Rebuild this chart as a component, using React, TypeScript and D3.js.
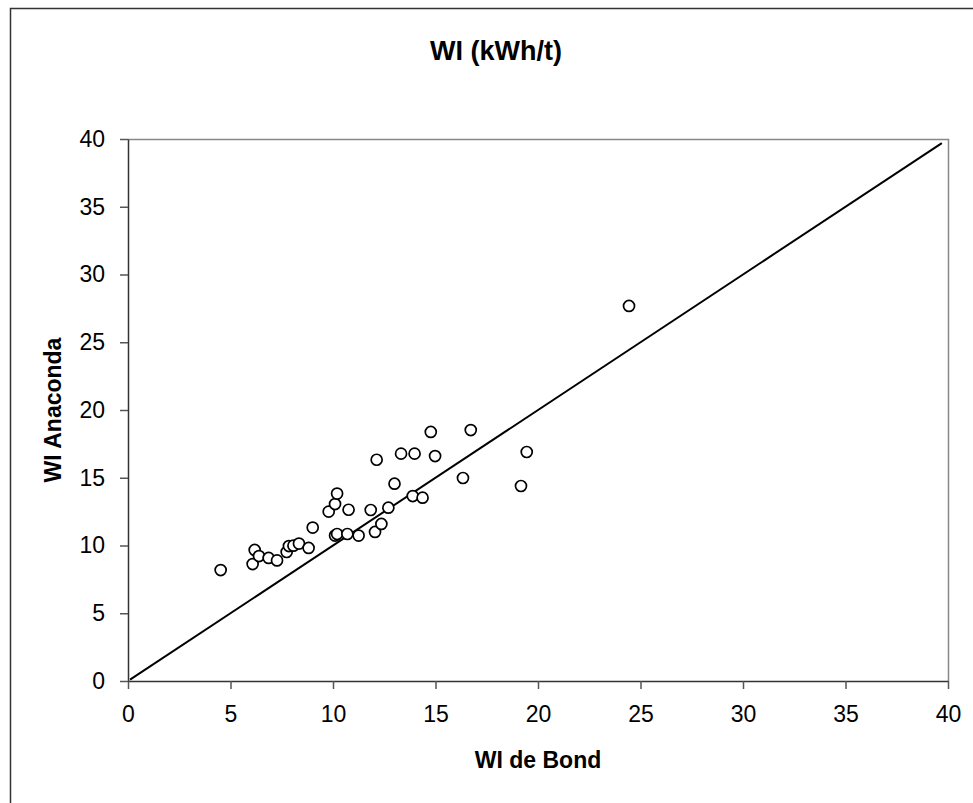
import React, { useRef, useEffect } from 'react';
import * as d3 from 'd3';

// WI de Bond (x) vs WI Anaconda (y), kWh/t
const bondValues = [
  4.52, 6.08, 6.18, 6.39, 6.86, 7.27, 7.74, 7.85, 8.07, 8.34, 8.81, 9.01,
  9.79, 10.1, 10.2, 10.1, 10.2, 10.7, 10.76, 11.25, 11.84, 12.05, 12.36, 12.13,
  12.7, 13.0, 13.32, 13.98, 13.89, 14.37, 14.77, 14.98, 16.72, 19.45, 16.34, 19.17,
  24.44,
];
const anacondaValues = [
  8.19, 8.63, 9.67, 9.22, 9.08, 8.9, 9.52, 9.96, 9.99, 10.14, 9.82, 11.32,
  12.5, 13.06, 13.83, 10.73, 10.85, 10.85, 12.64, 10.73, 12.62, 11.0, 11.59, 16.33,
  12.79, 14.56, 16.78, 16.78, 13.65, 13.53, 18.38, 16.6, 18.52, 16.9, 14.98, 14.39,
  27.68,
];
// 1:1 reference line
const refLine = [0.1, 39.7];
const xTicks = [0, 5, 10, 15, 20, 25, 30, 35, 40];
const yTicks = [0, 5, 10, 15, 20, 25, 30, 35, 40];

const FONT = '"Liberation Sans", Arial, sans-serif';

function ScatterChart() {
  const svgRef = useRef<SVGSVGElement>(null);

  useEffect(() => {
    const root = d3.select(svgRef.current);
    root.selectAll('*').remove();

    const width = 973;
    const height = 803;
    const plot = { left: 128, right: 948, top: 139, bottom: 681 };

    root.attr('width', width).attr('height', height);

    // outer chart border
    root.append('rect')
      .attr('x', 10.5)
      .attr('y', 8.5)
      .attr('width', width)
      .attr('height', height)
      .attr('fill', '#fff')
      .attr('stroke', '#333')
      .attr('stroke-width', 1.5);

    const x = d3.scaleLinear().domain([0, 40]).range([plot.left, plot.right]);
    const y = d3.scaleLinear().domain([0, 40]).range([plot.bottom, plot.top]);

    // plot area frame (top / right grey)
    root.append('path')
      .attr('d', `M${plot.left},${plot.top + 0.5}H${plot.right + 0.5}V${plot.bottom}`)
      .attr('fill', 'none')
      .attr('stroke', '#888')
      .attr('stroke-width', 1.5);

    // X axis
    const xAxis = root.append('g')
      .attr('transform', `translate(0,${plot.bottom})`)
      .call(d3.axisBottom(x).tickValues(xTicks).tickSize(8).tickSizeOuter(0).tickPadding(17));
    xAxis.select('.domain').attr('stroke', '#333').attr('stroke-width', 1.5);
    xAxis.selectAll('.tick line').attr('stroke', '#555').attr('stroke-width', 1.5);
    xAxis.selectAll('.tick text')
      .attr('font-family', FONT)
      .attr('font-size', 23)
      .attr('fill', '#000');

    // Y axis
    const yAxis = root.append('g')
      .attr('transform', `translate(${plot.left},0)`)
      .call(d3.axisLeft(y).tickValues(yTicks).tickSize(8).tickSizeOuter(0).tickPadding(15));
    yAxis.select('.domain').attr('stroke', '#333').attr('stroke-width', 1.5);
    yAxis.selectAll('.tick line').attr('stroke', '#555').attr('stroke-width', 1.5);
    yAxis.selectAll('.tick text')
      .attr('font-family', FONT)
      .attr('font-size', 23)
      .attr('fill', '#000');

    // 1:1 line
    const line = d3.line<number>().x(d => x(d)).y(d => y(d));
    root.append('path')
      .datum(refLine)
      .attr('d', line)
      .attr('fill', 'none')
      .attr('stroke', '#000')
      .attr('stroke-width', 2);

    // points
    root.append('g')
      .selectAll('circle')
      .data(bondValues.map((b, i) => [b, anacondaValues[i]]))
      .enter().append('circle')
      .attr('cx', d => x(d[0]))
      .attr('cy', d => y(d[1]))
      .attr('r', 5.5)
      .attr('fill', '#fff')
      .attr('stroke', '#000')
      .attr('stroke-width', 1.7);

    // title
    root.append('text')
      .attr('x', 496)
      .attr('y', 60)
      .attr('text-anchor', 'middle')
      .attr('font-family', FONT)
      .attr('font-weight', 'bold')
      .attr('font-size', 27)
      .text('WI (kWh/t)');

    // axis titles
    root.append('text')
      .attr('x', (plot.left + plot.right) / 2)
      .attr('y', 768)
      .attr('text-anchor', 'middle')
      .attr('font-family', FONT)
      .attr('font-weight', 'bold')
      .attr('font-size', 23)
      .text('WI de Bond');

    root.append('text')
      .attr('transform', `translate(61,${(plot.top + plot.bottom) / 2}) rotate(-90)`)
      .attr('text-anchor', 'middle')
      .attr('font-family', FONT)
      .attr('font-weight', 'bold')
      .attr('font-size', 23)
      .text('WI Anaconda');
  }, []);

  return <svg ref={svgRef} style={{ position: 'absolute', left: 0, top: 0, display: 'block' }} />;
}

export default function App() {
  return <ScatterChart />;
}
